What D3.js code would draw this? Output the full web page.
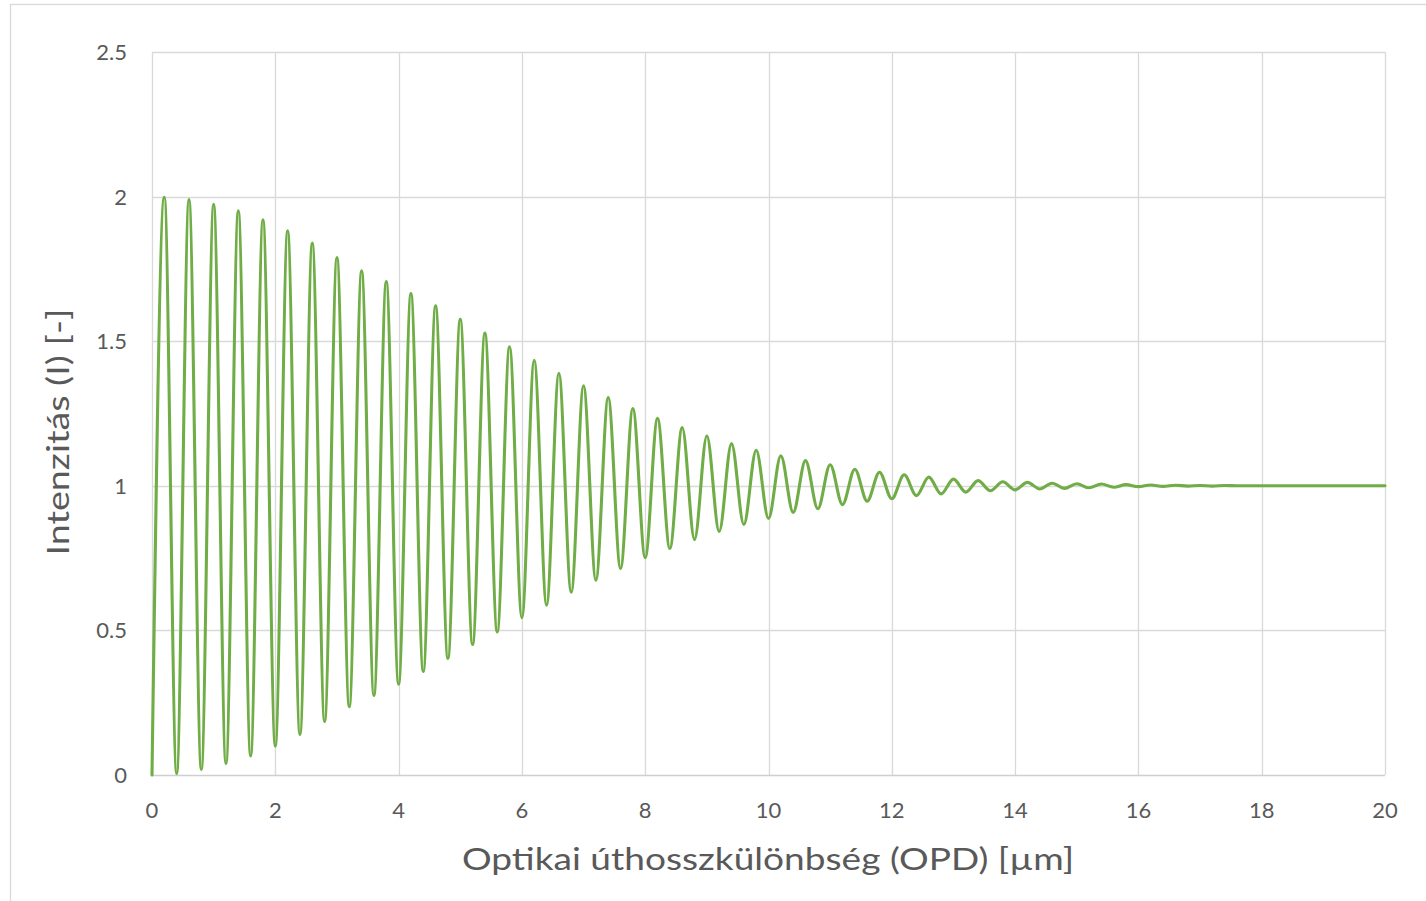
<!DOCTYPE html>
<html>
<head>
<meta charset="utf-8">
<script src="https://cdn.jsdelivr.net/npm/d3@7"></script>
<style>
  html, body { margin: 0; padding: 0; background: #ffffff; }
  svg { display: block; }
</style>
</head>
<body>
<svg id="chart" width="1426" height="901"></svg>
<script>
// ---- data (local maxima / minima of the interferogram) ----
const opd = [
  0.0, 0.2, 0.4, 0.6, 0.8, 1.0, 1.2, 1.4, 1.6, 1.8,
  2.0, 2.2, 2.4, 2.6, 2.8, 3.0, 3.2, 3.4, 3.6, 3.8,
  4.0, 4.2, 4.4, 4.6, 4.8, 5.0, 5.2, 5.4, 5.6, 5.8,
  6.0, 6.2, 6.4, 6.6, 6.8, 7.0, 7.2, 7.4, 7.6, 7.8,
  8.0, 8.2, 8.4, 8.6, 8.8, 9.0, 9.2, 9.4, 9.6, 9.8,
  10.0, 10.2, 10.4, 10.6, 10.8, 11.0, 11.2, 11.4, 11.6, 11.8,
  12.0, 12.2, 12.4, 12.6, 12.8, 13.0, 13.2, 13.4, 13.6, 13.8,
  14.0, 14.2, 14.4, 14.6, 14.8, 15.0, 15.2, 15.4, 15.6, 15.8,
  16.0, 16.2, 16.4, 16.6, 16.8, 17.0, 17.2, 17.4, 17.6, 17.8,
  18.0, 18.2, 18.4, 18.6, 18.8, 19.0, 19.2, 19.4, 19.6, 19.8,
  20.0
];
const intensity = [
  0.000, 1.998, 0.005, 1.990, 0.019, 1.973, 0.039, 1.951, 0.066, 1.920,
  0.100, 1.882, 0.140, 1.839, 0.185, 1.789, 0.236, 1.743, 0.275, 1.706,
  0.314, 1.665, 0.358, 1.622, 0.403, 1.576, 0.451, 1.528, 0.495, 1.481,
  0.544, 1.434, 0.587, 1.389, 0.632, 1.346, 0.674, 1.305, 0.714, 1.267,
  0.751, 1.233, 0.783, 1.201, 0.814, 1.172, 0.842, 1.146, 0.866, 1.123,
  0.887, 1.104, 0.908, 1.087, 0.921, 1.073, 0.935, 1.057, 0.947, 1.047,
  0.955, 1.038, 0.966, 1.030, 0.972, 1.023, 0.978, 1.018, 0.983, 1.014,
  0.986, 1.012, 0.989, 1.009, 0.991, 1.007, 0.993, 1.006, 0.995, 1.004,
  0.997, 1.003, 0.998, 1.002, 0.999, 1.001, 0.999, 1.001, 1.000, 1.000,
  1.000, 1.000, 1.000, 1.000, 1.000, 1.000, 1.000, 1.000, 1.000, 1.000,
  1.000
];
const xTicks = [0, 2, 4, 6, 8, 10, 12, 14, 16, 18, 20];
const yTicks = [0, 0.5, 1, 1.5, 2, 2.5];
const xTitle = "Optikai úthosszkülönbség (OPD) [µm]";
const yTitle = "Intenzitás (I) [-]";

// ---- layout ----
const svg = d3.select("#chart");
const plot = { left: 152, right: 1385, top: 52, bottom: 775 };
const textColor = "#595959";
const gridColor = "#d9d9d9";
const font = "Lato, 'Open Sans', sans-serif";

// chart area border
svg.append("rect")
  .attr("x", 10.5).attr("y", 4.5)
  .attr("width", 1430).attr("height", 910)
  .attr("fill", "#ffffff")
  .attr("stroke", gridColor).attr("stroke-width", 1.3);

const x = d3.scaleLinear().domain([0, 20]).range([plot.left, plot.right]);
const y = d3.scaleLinear().domain([0, 2.5]).range([plot.bottom, plot.top]);

// vertical gridlines
svg.append("g")
  .selectAll("line").data(xTicks).join("line")
  .attr("x1", d => Math.round(x(d)) + 0.5).attr("x2", d => Math.round(x(d)) + 0.5)
  .attr("y1", plot.top).attr("y2", plot.bottom)
  .attr("stroke", gridColor).attr("stroke-width", 1.3);

// horizontal gridlines
svg.append("g")
  .selectAll("line").data(yTicks.filter(d => d > 0)).join("line")
  .attr("x1", plot.left).attr("x2", plot.right)
  .attr("y1", d => Math.round(y(d)) + 0.5).attr("y2", d => Math.round(y(d)) + 0.5)
  .attr("stroke", gridColor).attr("stroke-width", 1.3);

// x axis line
svg.append("line")
  .attr("x1", plot.left).attr("x2", plot.right)
  .attr("y1", Math.round(y(0)) + 0.5).attr("y2", Math.round(y(0)) + 0.5)
  .attr("stroke", "#cfcfcf").attr("stroke-width", 1.5);

// tick labels
svg.append("g")
  .selectAll("text").data(yTicks).join("text")
  .attr("x", 127).attr("y", d => y(d))
  .attr("dy", "0.36em")
  .attr("text-anchor", "end")
  .attr("font-family", font).attr("font-size", 22)
  .attr("fill", textColor)
  .text(d => d3.format("")(d));

svg.append("g")
  .selectAll("text").data(xTicks).join("text")
  .attr("x", d => x(d)).attr("y", 810)
  .attr("dy", "0.36em")
  .attr("text-anchor", "middle")
  .attr("font-family", font).attr("font-size", 22)
  .attr("fill", textColor)
  .text(d => d);

// axis titles
svg.append("text")
  .attr("x", 768).attr("y", 870)
  .attr("text-anchor", "middle")
  .attr("font-family", font).attr("font-size", 31)
  .attr("fill", textColor)
  .attr("textLength", 612).attr("lengthAdjust", "spacingAndGlyphs")
  .text(xTitle);

svg.append("text")
  .attr("transform", "translate(69,432) rotate(-90)")
  .attr("text-anchor", "middle")
  .attr("font-family", font).attr("font-size", 31)
  .attr("fill", textColor)
  .attr("textLength", 247).attr("lengthAdjust", "spacingAndGlyphs")
  .text(yTitle);

// series line
const pts = opd.map((d, i) => [d, intensity[i]]);
const line = d3.line()
  .x(d => x(d[0]))
  .y(d => y(d[1]))
  .curve(d3.curveMonotoneX);

svg.append("path")
  .datum(pts)
  .attr("d", line)
  .attr("fill", "none")
  .attr("stroke", "#70AD47")
  .attr("stroke-width", 3.1)
  .attr("stroke-linejoin", "round")
  .attr("stroke-linecap", "round");
</script>
</body>
</html>
